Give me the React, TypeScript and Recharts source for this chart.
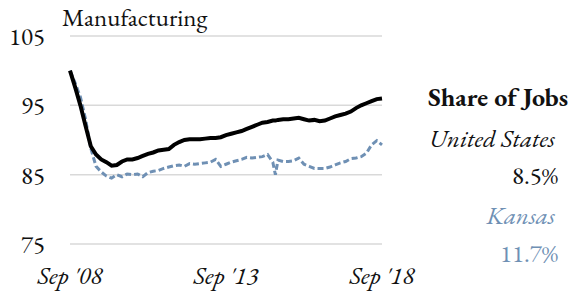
import React from 'react';
import { LineChart, Line, XAxis, YAxis, CartesianGrid } from 'recharts';

// months since Sep 2008
const months = [
  0, 2, 4, 6, 8, 10, 12, 14, 16, 18, 20, 22, 24, 26, 28, 30, 32, 34, 36, 38,
  40, 42, 44, 46, 48, 50, 52, 54, 56, 58, 60, 62, 64, 66, 68, 70, 72, 74, 76, 78,
  79, 80, 82, 84, 86, 88, 90, 92, 94, 96, 98, 100, 102, 104, 106, 108, 110, 112, 114, 116,
  118, 120,
];
const unitedStates = [
  100, 97.6, 95.0, 92.0, 89.1, 87.9, 87.2, 86.8, 86.3, 86.4, 86.9, 87.2, 87.2, 87.4, 87.7, 88.0, 88.2, 88.5, 88.6, 88.7,
  89.3, 89.7, 90.0, 90.1, 90.1, 90.1, 90.2, 90.3, 90.3, 90.4, 90.7, 90.9, 91.1, 91.3, 91.6, 91.9, 92.2, 92.5, 92.6, 92.8,
  92.8, 92.9, 93.0, 93.0, 93.1, 93.2, 93.0, 92.8, 92.9, 92.7, 92.8, 93.1, 93.4, 93.6, 93.8, 94.1, 94.6, 95.0, 95.3, 95.6,
  95.9, 96.0,
];
const kansas = [
  100, 98.2, 96.2, 93.0, 88.8, 86.2, 85.4, 84.8, 84.5, 85.0, 84.7, 85.1, 85.0, 85.1, 84.7, 85.3, 85.5, 85.6, 85.9, 86.1,
  86.3, 86.4, 86.2, 86.6, 86.5, 86.6, 86.7, 86.8, 87.2, 86.2, 86.5, 86.8, 87.0, 87.2, 87.5, 87.4, 87.5, 87.6, 87.9, 86.8,
  85.0, 87.1, 86.9, 86.9, 87.0, 87.4, 86.5, 86.2, 85.9, 85.9, 85.9, 86.1, 86.4, 86.7, 86.9, 87.3, 87.4, 87.6, 88.1, 89.3,
  89.9, 89.3,
];
const xTicks = [0, 60, 120];
const xLabels = ["Sep '08", "Sep '13", "Sep '18"];
const yTicks = [75, 85, 95, 105];

const data = months.map((m, i) => ({ m, us: unitedStates[i], ks: kansas[i] }));

const FONT = '"EB Garamond", "Liberation Serif", serif';
const BLUE = '#6f90b4';
const INK = '#111';

const label = (top: number, right: number, extra: React.CSSProperties = {}): React.CSSProperties => ({
  position: 'absolute', right, top, fontSize: 25, color: INK, lineHeight: '30px', fontFamily: FONT, whiteSpace: 'nowrap', ...extra,
});

export default function App() {
  return (
    <div style={{ position: 'absolute', left: 0, top: 0, width: 572, height: 291, fontFamily: FONT, background: '#fff' }}>
      <LineChart width={572} height={291} data={data} margin={{ top: 36, right: 190, bottom: 0, left: 0 }}>
        <CartesianGrid vertical={false} stroke="#d9d9d9" strokeWidth={1.5} />
        <XAxis
          dataKey="m"
          type="number"
          domain={[0, 120]}
          ticks={xTicks}
          tickFormatter={(v: number) => xLabels[xTicks.indexOf(v)]}
          axisLine={false}
          tickLine={false}
          tickSize={0}
          tickMargin={22}
          height={47}
          interval={0}
          tick={{ fontSize: 25, fontStyle: 'italic', fill: INK, fontFamily: FONT }}
        />
        <YAxis
          domain={[75, 105]}
          ticks={yTicks}
          axisLine={false}
          tickLine={false}
          tickSize={0}
          tickMargin={25}
          width={70}
          tick={{ fontSize: 25, fill: INK, fontFamily: FONT }}
        />
        <Line dataKey="ks" stroke={BLUE} strokeWidth={3} strokeDasharray="6 3" dot={false} isAnimationActive={false} />
        <Line dataKey="us" stroke="#000" strokeWidth={4} dot={false} isAnimationActive={false} />
        <text x={62} y={26} fontSize={25} fill={INK} style={{ fontFamily: FONT }}>Manufacturing</text>
      </LineChart>
      <div style={label(82, 4, { fontWeight: 'bold', fontSize: 26 })}>Share of Jobs</div>
      <div style={label(123, 17, { fontStyle: 'italic' })}>United States</div>
      <div style={label(160, 14)}>8.5%</div>
      <div style={label(200, 17, { fontStyle: 'italic', color: BLUE })}>Kansas</div>
      <div style={label(238, 14, { color: BLUE })}>11.7%</div>
    </div>
  );
}
